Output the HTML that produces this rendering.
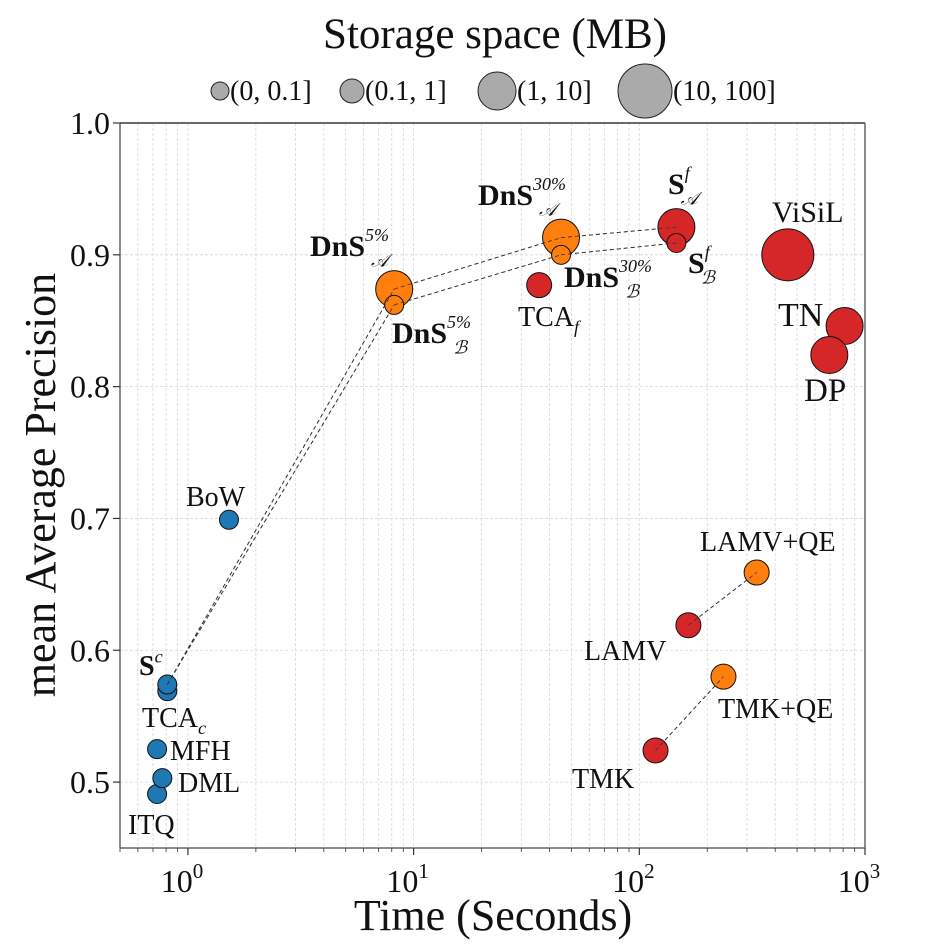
<!DOCTYPE html>
<html><head><meta charset="utf-8"><style>
html,body{margin:0;padding:0;background:#fff;}
svg text{font-family:"Liberation Serif",serif;fill:#111;}
</style></head><body>
<svg id="chart" width="926" height="940" viewBox="0 0 926 940" xmlns="http://www.w3.org/2000/svg"></svg>
<script>
const methods = ["ITQ","DML","MFH","TCAc","Sc","BoW","DnS5A","DnS5B","TCAf","DnS30A","DnS30B","SfA","SfB","ViSiL","TN","DP","LAMVQE","LAMV","TMKQE","TMK"];
const timeSec = [0.73,0.77,0.73,0.81,0.81,1.52,8.2,8.2,36,45,45,146,146,455,812,695,331,165,236,118];
const mapValues = [0.491,0.503,0.525,0.569,0.574,0.699,0.874,0.862,0.877,0.913,0.900,0.921,0.909,0.900,0.846,0.824,0.659,0.619,0.580,0.524];
const sizeClass = [1,1,1,1,1,1,3,1,2,3,1,3,1,4,3,3,2,2,2,2];
const colorGroup = ["b","b","b","b","b","b","o","o","r","o","o","r","r","r","r","r","o","r","o","r"];
const links = [["Sc","DnS5A"],["Sc","DnS5B"],["DnS5A","DnS30A"],["DnS30A","SfA"],["DnS5B","DnS30B"],["DnS30B","SfB"],["LAMV","LAMVQE"],["TMK","TMKQE"]];
const xTicks = [0,1,2,3];
const yTicks = [0.5,0.6,0.7,0.8,0.9,1.0];
const legendLabels = ["(0, 0.1]","(0.1, 1]","(1, 10]","(10, 100]"];

const L=120,R=865,T=123,B=848;
const xMin=Math.log10(0.5),xMax=3,yMin=0.45,yMax=1.0;
const X=v=>L+(Math.log10(v)-xMin)/(xMax-xMin)*(R-L);
const Y=v=>B-(v-yMin)/(yMax-yMin)*(B-T);
const rad={1:9.5,2:12.5,3:18.5,4:26};
const col={b:"#1f77b4",o:"#ff7f0e",r:"#d62728"};
const svg=document.getElementById('chart');
const NS="http://www.w3.org/2000/svg";
function mk(tag,attrs,parent){const e=document.createElementNS(NS,tag);for(const k in attrs)e.setAttribute(k,attrs[k]);(parent||svg).appendChild(e);return e;}

const grid=mk('g',{});


for(let d=-1;d<3;d++){for(let m=1;m<10;m++){const v=m*Math.pow(10,d);if(v<0.5||v>1000)continue;const x=X(v);
 mk('line',{x1:x,x2:x,y1:T,y2:B,stroke:'#d8d8d8','stroke-width':0.8,'stroke-dasharray':'3,2'},grid);}}
yTicks.forEach(v=>{mk('line',{x1:L,x2:R,y1:Y(v),y2:Y(v),stroke:'#d8d8d8','stroke-width':0.8,'stroke-dasharray':'3,2'},grid);});

mk('line',{x1:L,x2:L,y1:T,y2:B,stroke:'#666','stroke-width':1.5});
mk('line',{x1:L,x2:R,y1:B,y2:B,stroke:'#666','stroke-width':1.5});
mk('line',{x1:L,x2:R,y1:T,y2:T,stroke:'#111','stroke-width':1.3});
const frame=mk('line',{x1:R,x2:R,y1:T,y2:B,stroke:'#666','stroke-width':1.5});



xTicks.forEach(p=>{const x=X(Math.pow(10,p));
 mk('line',{x1:x,x2:x,y1:B,y2:B+7,stroke:'#333','stroke-width':1.2});
 const t=mk('text',{x:x-6,y:B+44,'font-size':32,'text-anchor':'middle'});
 
 
 t.textContent='10';
 const s=mk('tspan',{'font-size':21,dy:-14},t);s.textContent=String(p);});
for(let d=-1;d<3;d++){for(let m=2;m<10;m++){const v=m*Math.pow(10,d);if(v<0.5)continue;const x=X(v);mk('line',{x1:x,x2:x,y1:B,y2:B+4,stroke:'#333','stroke-width':0.8});}}
yTicks.forEach(v=>{const y=Y(v);
 mk('line',{x1:L-7,x2:L,y1:y,y2:y,stroke:'#333','stroke-width':1.2});
 const t=mk('text',{x:L-10,y:y+11,'font-size':32,'text-anchor':'end'});
 
 
 t.textContent=v.toFixed(1);});

const xl=mk('text',{x:493,y:930,'font-size':44,'text-anchor':'middle'});


xl.textContent='Time (Seconds)';
const yl=mk('text',{x:0,y:0,'font-size':44,'text-anchor':'middle',transform:'translate(55,485) rotate(-90)'});


yl.textContent='mean Average Precision';

const tt=mk('text',{x:495,y:48,'font-size':43,'text-anchor':'middle'});


tt.textContent='Storage space (MB)';
const legX=[220,352,497,645],legR=[9,12,19,27];
legendLabels.forEach((lab,i)=>{const g=mk('g',{});
 
 
 mk('circle',{cx:legX[i],cy:91,r:legR[i],fill:'#aaaaaa',stroke:'#222','stroke-width':1},g);
 const t=mk('text',{x:legX[i]+legR[i]+1,y:100,'font-size':28},g);t.textContent=lab;});

const idx=n=>methods.indexOf(n);
links.forEach(([a,b])=>{const i=idx(a),j=idx(b);
 const l=mk('line',{x1:X(timeSec[i]),y1:Y(mapValues[i]),x2:X(timeSec[j]),y2:Y(mapValues[j]),stroke:'#333','stroke-width':0.9,'stroke-dasharray':'4,3'});
 
 });

const order=methods.map((_,i)=>i).sort((a,b)=>sizeClass[b]-sizeClass[a]);
order.forEach(i=>{const c=mk('circle',{cx:X(timeSec[i]),cy:Y(mapValues[i]),r:rad[sizeClass[i]],fill:col[colorGroup[i]],stroke:'#111','stroke-width':1});
 
 });
links.forEach(([a,b])=>{const i=idx(a),j=idx(b);
 const l=mk('line',{x1:X(timeSec[i]),y1:Y(mapValues[i]),x2:X(timeSec[j]),y2:Y(mapValues[j]),stroke:'#333','stroke-width':0.8,'stroke-dasharray':'4,3'});
 
 });

const labels=[
["ITQ",128,834,"ITQ",0,"","",28],["DML",178,792,"DML",0,"","",28],["MFH",170,760,"MFH",0,"","",28],
["TCAc",142,727,"TCA",0,"","c",28],["Sc",139,675,"S",1,"c","",28],["BoW",186,506,"BoW",0,"","",28],
["DnS5A",310,256,"DnS",1,"5%","𝒜",30],["DnS5B",392,343,"DnS",1,"5%","ℬ",30],["TCAf",518,326,"TCA",0,"","f",28],
["DnS30A",478,205,"DnS",1,"30%","𝒜",30],["DnS30B",564,287,"DnS",1,"30%","ℬ",30],["SfA",668,194,"S",1,"f","𝒜",30],
["SfB",688,273,"S",1,"f","ℬ",30],["ViSiL",772,222,"ViSiL",0,"","",30],["TN",778,326,"TN",0,"","",34],
["DP",804,401,"DP",0,"","",33],["LAMVQE",700,551,"LAMV+QE",0,"","",28],["LAMV",584,660,"LAMV",0,"","",28],
["TMKQE",718,718,"TMK+QE",0,"","",28],["TMK",572,788,"TMK",0,"","",28]];
labels.forEach(([m,x,y,txt,b,sup,sub,fs])=>{const t=mk('text',{x:x,y:y,'font-size':fs});
 
 
 const a=mk('tspan',{'font-weight':b?'bold':'normal'},t);a.textContent=txt;
 if(sup&&sub){const s1=mk('tspan',{'font-size':fs*0.6,dy:-fs*0.5,'font-style':'italic'},t);s1.textContent=sup;
   const w=fs*0.6*0.5*sup.length;const s2=mk('tspan',{'font-size':fs*0.6,dx:-w,dy:fs*0.85,'font-style':'italic'},t);s2.textContent=sub;}
 else if(sup){const s1=mk('tspan',{'font-size':fs*0.65,dy:-fs*0.45,'font-style':'italic'},t);s1.textContent=sup;}
 else if(sub){const s2=mk('tspan',{'font-size':fs*0.65,dy:fs*0.25,'font-style':'italic'},t);s2.textContent=sub;}
});
</script>
</body></html>
